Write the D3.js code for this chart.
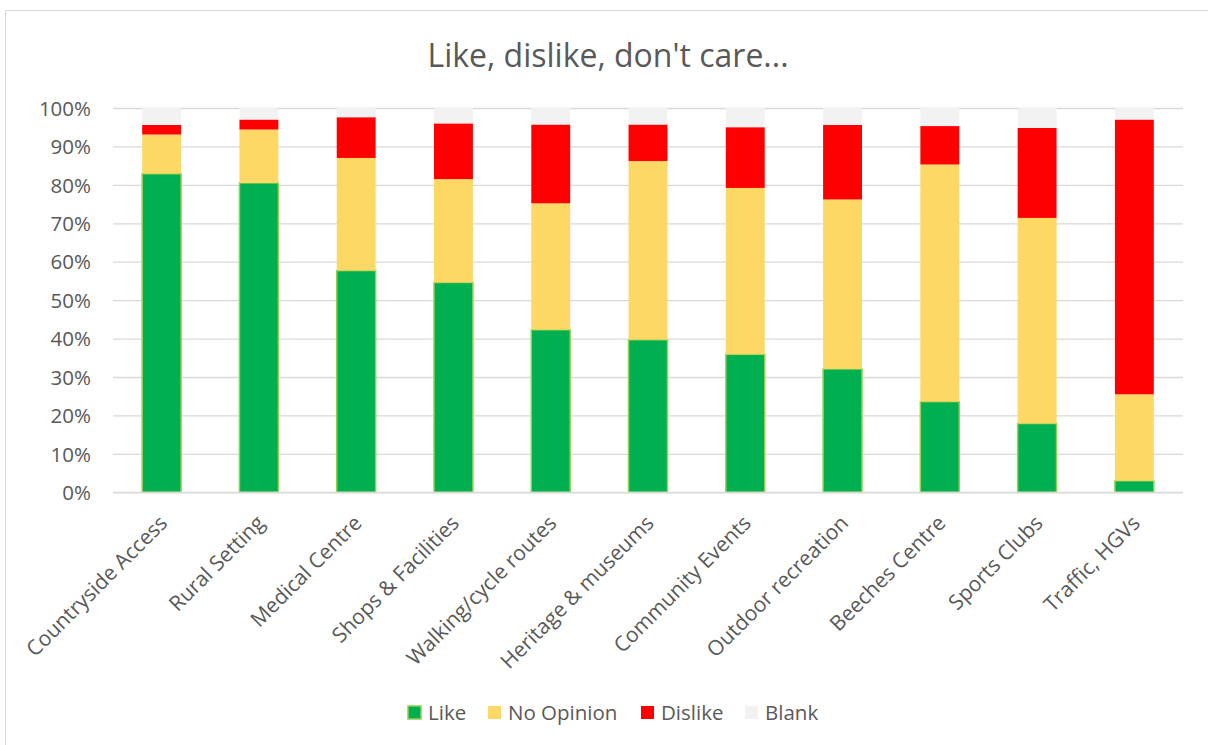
<!DOCTYPE html>
<html><head><meta charset="utf-8">
<script src="https://cdn.jsdelivr.net/npm/d3@7"></script>
<style>body{margin:0;background:#fff;} svg{display:block;} text{font-family:"Open Sans",sans-serif;fill:#595959;}</style>
</head><body><svg id="c" width="1208" height="745"></svg>
<script>
const categories = ["Countryside Access","Rural Setting","Medical Centre","Shops & Facilities","Walking/cycle routes","Heritage & museums","Community Events","Outdoor recreation","Beeches Centre","Sports Clubs","Traffic, HGVs"];
const like      = [82.9, 80.5, 57.7, 54.6, 42.3, 39.7, 35.9, 32.1, 23.6, 17.9, 3.0];
const noOpinion = [10.2, 13.9, 29.3, 26.9, 32.9, 46.5, 43.3, 44.1, 61.7, 53.5, 22.5];
const dislike   = [2.5, 2.6, 10.6, 14.5, 20.5, 9.5, 15.8, 19.4, 10.0, 23.4, 71.5];
const blank     = [4.4, 3.0, 2.4, 4.0, 4.3, 4.3, 5.0, 4.4, 4.7, 5.2, 3.0];
const seriesNames = ["Like","No Opinion","Dislike","Blank"];
const yTicks = [0,10,20,30,40,50,60,70,80,90,100];
const title = "Like, dislike, don't care...";

const colors = {"Like":"#00b050","No Opinion":"#fdd865","Dislike":"#ff0000","Blank":"#f2f2f2"};
const strokes = {"Like":"#92d050","No Opinion":"none","Dislike":"none","Blank":"none"};

const svg = d3.select("#c");
svg.append("rect").attr("x",5.5).attr("y",10.5).attr("width",1210).attr("height",740)
  .attr("fill","#fff").attr("stroke","#d9d9d9").attr("stroke-width",1);

const m = {l:113, r:1183, t:108, b:492.3};
const x = d3.scaleBand().domain(categories).range([m.l,m.r]).paddingInner(0.6).paddingOuter(0.3);
const y = d3.scaleLinear().domain([0,100]).range([m.b,m.t]);

svg.append("text").attr("x",608).attr("y",67).attr("text-anchor","middle")
  .style("font-size","32px").text(title);

// grid
const yAxis = d3.axisLeft(y).tickValues(yTicks).tickFormat(d=>d+"%").tickSize(-(m.r-m.l)).tickPadding(22);
const gy = svg.append("g").attr("transform",`translate(${m.l},0)`).call(yAxis);
gy.select(".domain").remove();
gy.selectAll(".tick line").attr("stroke","#d9d9d9").attr("stroke-width",1.3);
gy.selectAll(".tick text").style("font-size","20.5px").attr("fill","#595959").attr("dy","0.35em");

// stack
const rows = categories.map((c,i)=>({cat:c,"Like":like[i],"No Opinion":noOpinion[i],"Dislike":dislike[i],"Blank":blank[i]}));
const stack = d3.stack().keys(seriesNames)(rows);
svg.append("g").selectAll("g").data(stack).join("g")
  .attr("fill",d=>colors[d.key]).attr("stroke",d=>strokes[d.key]).attr("stroke-width",1.5)
  .selectAll("rect").data(d=>d).join("rect")
  .attr("x",d=>x(d.data.cat)).attr("width",x.bandwidth())
  .attr("y",d=>y(d[1])).attr("height",d=>y(d[0])-y(d[1]));

// x axis
const xAxis = d3.axisBottom(x).tickSize(0).tickPadding(0);
const gx = svg.append("g").attr("transform",`translate(0,${m.b})`).call(xAxis);
gx.select(".domain").attr("stroke","#d9d9d9").attr("stroke-width",1.3).attr("d",`M${m.l},0H${m.r}`);
gx.selectAll(".tick text").style("font-size","21px").attr("fill","#595959")
  .attr("text-anchor","end").attr("dy","0").attr("y",0)
  .attr("transform","translate(7,32) rotate(-45)");

// legend
const legX = [408,488,641,745];
const lg = svg.append("g").selectAll("g").data(seriesNames).join("g")
  .attr("transform",(d,i)=>`translate(${legX[i]},706)`);
lg.append("rect").attr("width",13).attr("height",13).attr("fill",d=>colors[d])
  .attr("stroke",d=>strokes[d]).attr("stroke-width",1.5);
lg.append("text").attr("x",20).attr("y",7).attr("dy","0.35em").style("font-size","20.5px").text(d=>d);
</script></body></html>
